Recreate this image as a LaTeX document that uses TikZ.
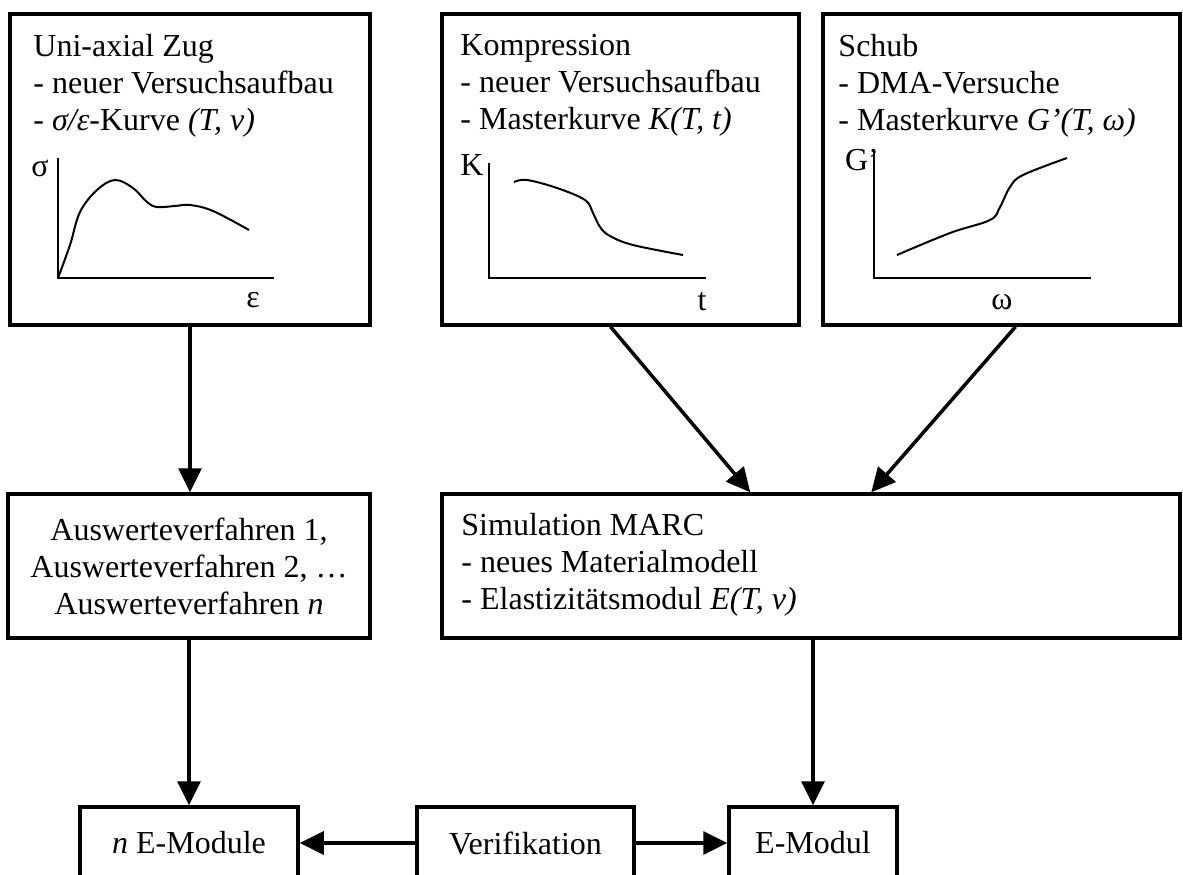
\documentclass[tikz,border=0pt]{standalone}
\usepackage{fontspec}
\setmainfont{Liberation Serif}
\usetikzlibrary{arrows.meta,positioning}

\tikzset{
  box/.style={draw, line width=3.5pt, rectangle, inner sep=0pt},
  boxtext/.style={inner sep=0pt, anchor=north west, align=left},
  pfeil/.style={line width=3.5pt, -{Triangle[length=24pt,width=23pt]}},
  achse/.style={line width=2pt},
  kurve/.style={line width=2pt, smooth, tension=0.6},
}

\begin{document}
\begin{tikzpicture}[x=1pt,y=-1pt,font=\fontsize{32}{37}\selectfont]
\useasboundingbox (0,0) rectangle (1183,875);

% Versuche
\node[box, minimum width=360, minimum height=311] (zug) at (190,169.5) {};
\node[box, minimum width=357, minimum height=311] (komp) at (620.5,169.5) {};
\node[box, minimum width=357, minimum height=311] (schub) at (1001.5,169.5) {};

\node[boxtext] (zugtxt) at ([shift={(25,22)}]zug.north west)
  {Uni-axial Zug\\- neuer Versuchsaufbau\\- \textit{σ/ε}-Kurve \textit{(T, v)}};
\node[boxtext] (komptxt) at ([shift={(20,22)}]komp.north west)
  {Kompression\\- neuer Versuchsaufbau\\- Masterkurve \textit{K(T, t)}};
\node[boxtext] (schubtxt) at ([shift={(17,22)}]schub.north west)
  {Schub\\- DMA-Versuche\\- Masterkurve \textit{G’(T, ω)}};

% Kurven
\draw[achse] (58,158) -- (58,278) -- (274,278);
\draw[kurve] plot coordinates {(58,278) (70,245) (80,212) (97,190) (115,180)
  (133,188) (147,202) (157,207) (175,206) (190,205) (213,211) (249,230)};
\node[inner sep=0pt] (sigma) at (40,168) {σ};
\node[inner sep=0pt] (eps) at (253,300) {ε};

\draw[achse] (489,163) -- (489,278) -- (706,278);
\draw[kurve] plot coordinates {(514,182) (527,180) (557,188) (585,200)
  (593,213) (600,227) (610,236) (633,245) (683,255)};
\node[inner sep=0pt] (kachse) at (472,165) {K};
\node[inner sep=0pt] (tachse) at (702,302) {t};

\draw[achse] (874,152) -- (874,278) -- (1091,278);
\draw[kurve] plot coordinates {(897,255) (950,233) (990,220) (1000,207)
  (1010,187) (1023,175) (1067,158)};
\node[inner sep=0pt] (gachse) at (862,160) {G’};
\node[inner sep=0pt] (omega) at (1002,302) {ω};

% Auswertung
\node[box, minimum width=362, minimum height=144, align=center] (ausw) at (189,566)
  {Auswerteverfahren 1,\\Auswerteverfahren 2, …\\Auswerteverfahren \textit{n}};
\node[box, minimum width=738, minimum height=144] (sim) at (811,566) {};
\node[boxtext] (simtxt) at ([shift={(21,21)}]sim.north west)
  {Simulation MARC\\- neues Materialmodell\\- Elastizitätsmodul \textit{E(T, v)}};

% Ergebnisse
\node[box, minimum width=218, minimum height=72] (nemod) at (189,843) {\textit{n} E-Module};
\node[box, minimum width=217, minimum height=72] (verif) at (525.5,843) {Verifikation};
\node[box, minimum width=168, minimum height=72] (emod) at (813,843) {E-Modul};

\draw[pfeil] (zug.south) -- (zug.south |- ausw.north);
\draw[pfeil] (ausw) -- (nemod);
\draw[pfeil] ([xshift=-10]komp.south) -- ([xshift=310]sim.north west);
\draw[pfeil] ([xshift=14]schub.south) -- ([xshift=431]sim.north west);
\draw[pfeil] (sim.south -| emod.north) -- (emod);
\draw[pfeil] (verif) -- (nemod);
\draw[pfeil] (verif) -- (emod);
\end{tikzpicture}
\end{document}
